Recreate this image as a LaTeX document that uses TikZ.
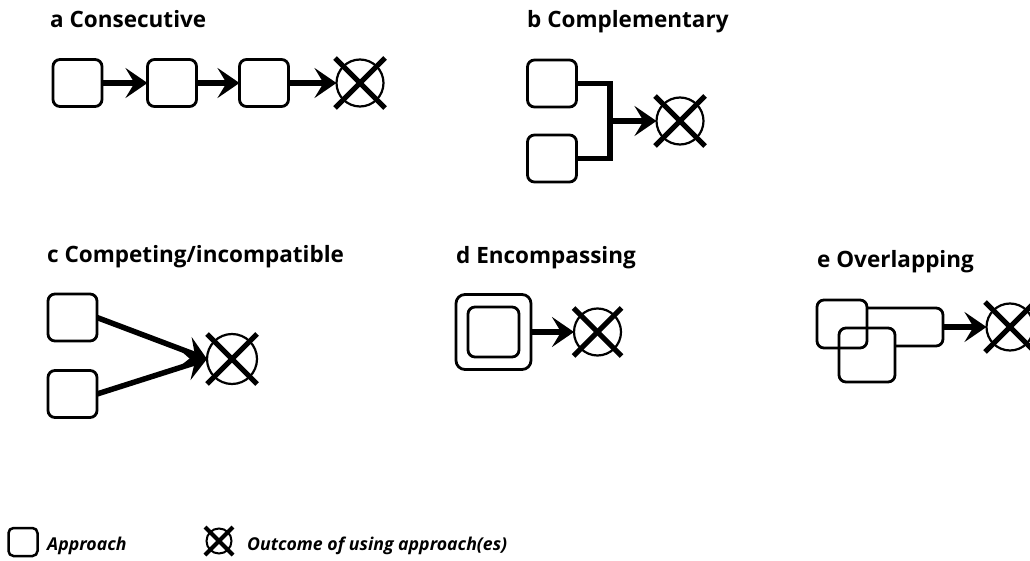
\documentclass[tikz,border=0pt]{standalone}
\usepackage{fontspec}
\setmainfont{Open Sans}
\usetikzlibrary{arrows.meta,calc}
\newcommand\drawcross[3]{%
  \draw[line width=#3] ($(#1)+(-#2,-#2)$) -- ($(#1)+(#2,#2)$);
  \draw[line width=#3] ($(#1)+(-#2,#2)$) -- ($(#1)+(#2,-#2)$);}
\begin{document}
\begin{tikzpicture}[x=1pt,y=-1pt,
  appr/.style={draw, line width=2.8pt, rounded corners=7pt, minimum width=49pt, minimum height=47pt, inner sep=0pt, outer sep=0pt},
  outc/.style={draw, circle, line width=2.2pt, minimum size=47pt, inner sep=0pt, outer sep=0pt},
  conn/.style={line width=5.5pt, line join=miter},
  arr/.style={line width=5.5pt, -{Stealth[length=22pt,width=30pt,inset=9pt]}},
  title/.style={font=\bfseries\fontsize{22.5}{26}\selectfont, anchor=base west, inner sep=0pt},
  legtext/.style={font=\bfseries\itshape\fontsize{17.7}{21}\selectfont, anchor=base west, inner sep=0pt}]
\useasboundingbox (0,0) rectangle (1030,561);
\clip (0,0) rectangle (1030,561);
\fill[white] (0,0) rectangle (1030,561);

% a
\node[title] (ta) at (50,28) {a Consecutive};
\node[appr] (a1) at (77.5,83) {};
\node[appr] (a2) at (172,83) {};
\node[appr] (a3) at (264,83) {};
\node[outc] (a4) at (360,83) {};
\draw[arr] (a1) -- (a2);
\draw[arr] (a2) -- (a3);
\draw[arr] (a3) -- (a4);
\drawcross{a4}{25}{5pt}

% b
\node[title] (tb) at (527,28) {b Complementary};
\node[appr] (b1) at (552,83.5) {};
\node[appr] (b2) at (552,158.5) {};
\coordinate (bj) at (610,121);
\node[outc] (b3) at (680,121) {};
\draw[conn] (b1.east) -| (bj) |- (b2.east);
\draw[arr] (bj) -- (b3);
\drawcross{b3}{25}{5pt}

% c
\node[title] (tc) at (47,262) {c Competing/incompatible};
\node[appr] (c1) at (72.5,317.5) {};
\node[appr] (c2) at (72.5,394) {};
\node[outc, minimum size=50pt] (c3) at (232,359) {};
\draw[arr] (c1.east) -- (c3.west);
\draw[arr] (c2.east) -- (c3.west);
\drawcross{c3}{25}{5pt}

% d
\node[title] (td) at (456,263) {d Encompassing};
\node[appr, minimum width=75pt, minimum height=75pt, rounded corners=9pt] (d1) at (493.5,332) {};
\node[appr, minimum width=51pt, minimum height=50pt] (d2) at (493.5,332) {};
\node[outc] (d3) at (597.5,332) {};
\draw[arr] (d1) -- (d3);
\drawcross{d3}{24}{5pt}

% e
\node[title] (te) at (817,267) {e Overlapping};
\node[appr, minimum width=50pt, minimum height=48pt] (e1) at (842,324) {};
\node[appr, minimum width=56pt, minimum height=54pt] (e2) at (867,355) {};
\coordinate (er1) at (943,308);
\coordinate (er2) at (943,346);
\draw[line width=2.8pt, rounded corners=7pt] (e1.east |- er1) -- (er1) -- (er2) -- (e2.east |- er2);
\coordinate (eo) at (943,327);
\node[outc] (e3) at (1010,327) {};
\draw[arr] (eo) -- (e3);
\drawcross{e3}{25}{5pt}

% legend
\node[appr, minimum width=29pt, minimum height=28pt, line width=2.5pt, rounded corners=5pt] (l1) at (23,542) {};
\node[legtext] (l1t) at (47,550) {Approach};
\node[outc, minimum size=25pt, line width=2pt] (l2) at (219,541) {};
\drawcross{l2}{14}{4pt}
\node[legtext] (l2t) at (247,550) {Outcome of using approach(es)};
\end{tikzpicture}
\end{document}
